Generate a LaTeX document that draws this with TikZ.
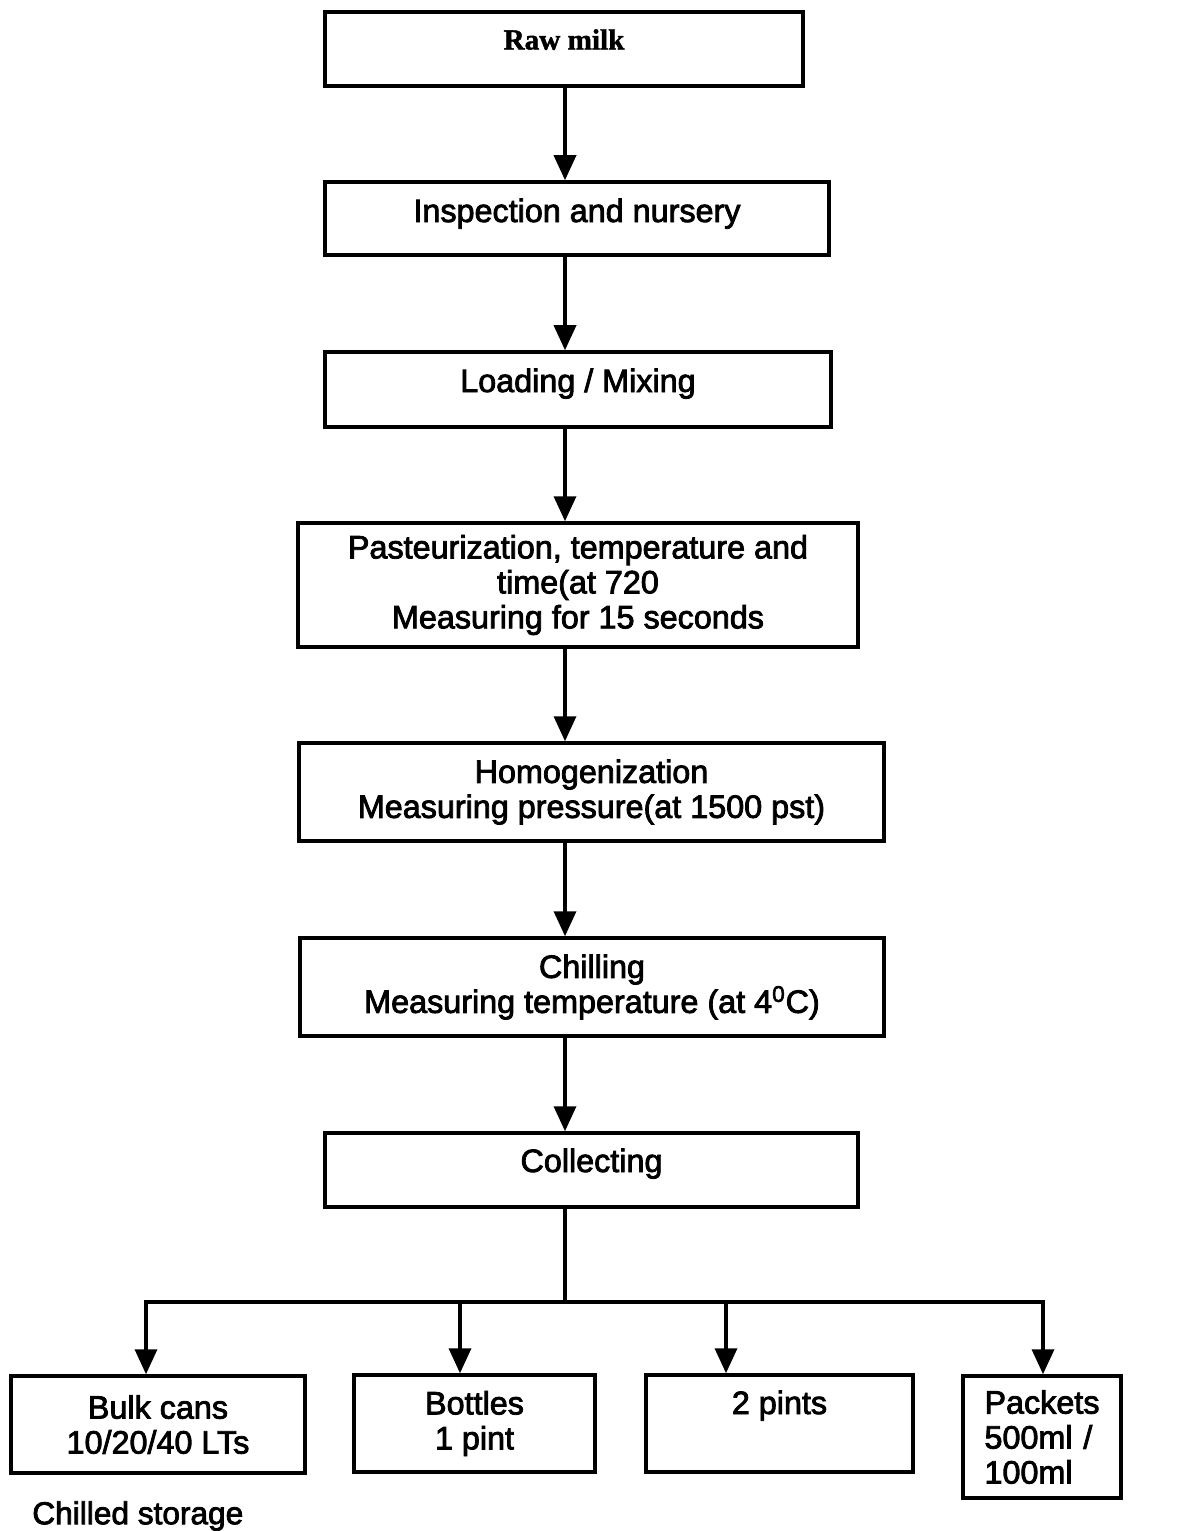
\documentclass[tikz,border=0pt]{standalone}
\usepackage{fontspec}
\newfontfamily\boxfont{Liberation Sans}[FakeBold=2.5]
\newfontfamily\rawfont{Liberation Serif}[BoldFeatures={FakeBold=1.5}]
\usetikzlibrary{arrows.meta}
\usetikzlibrary{positioning}

\begin{document}
\begin{tikzpicture}[
  box/.style={draw, line width=2pt, align=center, inner sep=0pt,
    font=\boxfont\fontsize{18.4}{19.9}\selectfont},
  textup/.style={text height=0.5cm, text depth=#1},
  arrow/.style={line width=2pt, -{Triangle[length=0.5cm,width=0.44cm]}},
  link/.style={line width=2pt}
]
\useasboundingbox (0,0) rectangle (23.6,-30.62);

% main column
\node[box, minimum width=9.56cm, minimum height=1.48cm, textup=0.48cm,
  font=\rawfont\bfseries\fontsize{16.6}{18}\selectfont] (raw) at (11.28,-0.98) {Raw milk};
\node[box, minimum width=10.08cm, minimum height=1.46cm, textup=0.36cm] (inspect) at (11.54,-4.37) {Inspection and nursery};
\node[box, minimum width=10.12cm, minimum height=1.5cm, textup=0.40cm] (loading) at (11.56,-7.79) {Loading / Mixing};
\node[box, minimum width=11.2cm, minimum height=2.48cm] (pasteur) at (11.56,-11.70)
  {Pasteurization, temperature and\\ time(at 720\\ Measuring for 15 seconds};
\node[box, minimum width=11.7cm, minimum height=1.96cm] (homog) at (11.83,-15.84)
  {Homogenization\\ Measuring pressure(at 1500 pst)};
\node[box, minimum width=11.68cm, minimum height=1.96cm] (chill) at (11.84,-19.74)
  {Chilling\\ Measuring temperature (at 4\textsuperscript{0}C)};
\node[box, minimum width=10.66cm, minimum height=1.48cm, textup=0.42cm] (collect) at (11.83,-23.40) {Collecting};

% packaging row
\node[box, minimum width=5.88cm, minimum height=1.94cm] (bulk) at (3.16,-28.49) {Bulk cans\\ 10/20/40 LTs};
\node[box, minimum width=4.82cm, minimum height=1.94cm] (bottles) at (9.49,-28.47) {Bottles\\ 1 pint};
\node[box, minimum width=5.34cm, minimum height=1.94cm, textup=0.88cm] (pints) at (15.59,-28.47) {2 pints};
\node[box, align=left, text width=2.3cm, inner xsep=0.43cm, minimum height=2.44cm] (packets) at (20.84,-28.74)
  {Packets\\ 500ml /\\ 100ml};
\node[font=\boxfont\fontsize{18}{19.6}\selectfont, inner sep=0pt, anchor=west] (storage) at (0.64,-30.32) {Chilled storage};

% flow
\coordinate (spine) at (11.3,0);
\draw[arrow] (spine |- raw.south) -- (spine |- inspect.north);
\draw[arrow] (spine |- inspect.south) -- (spine |- loading.north);
\draw[arrow] (spine |- loading.south) -- (spine |- pasteur.north);
\draw[arrow] (spine |- pasteur.south) -- (spine |- homog.north);
\draw[arrow] (spine |- homog.south) -- (spine |- chill.north);
\draw[arrow] (spine |- chill.south) -- (spine |- collect.north);

% split to the four packs
\coordinate (split) at (11.3,-26.04);
\coordinate (b1) at (2.92,-26.04);
\coordinate (b2) at (9.2,-26.04);
\coordinate (b3) at (14.52,-26.04);
\coordinate (b4) at (20.86,-26.04);
\draw[link] (spine |- collect.south) -- (split);
\draw[link, line cap=rect] (b1) -- (b4);
\draw[arrow] (b1) -- (b1 |- bulk.north);
\draw[arrow] (b2) -- (b2 |- bottles.north);
\draw[arrow] (b3) -- (b3 |- pints.north);
\draw[arrow] (b4) -- (b4 |- packets.north);
\end{tikzpicture}
\end{document}
